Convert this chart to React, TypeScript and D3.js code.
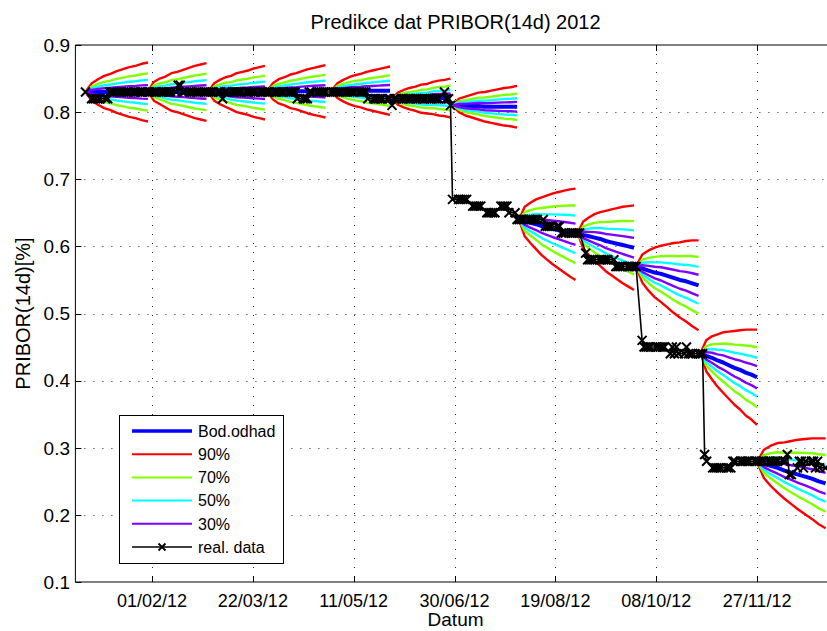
import React from "react";
import * as d3 from "d3";

// ---------- axes / ticks ----------
const X_DOMAIN = ["2011-12-25", "2013-01-05"];
const Y_DOMAIN = [0.1, 0.9];
const Y_TICKS = [0.1, 0.2, 0.3, 0.4, 0.5, 0.6, 0.7, 0.8, 0.9];
const X_TICKS = ["2012-02-01", "2012-03-22", "2012-05-11", "2012-06-30", "2012-08-19", "2012-10-08", "2012-11-27"];
const TITLE = "Predikce dat PRIBOR(14d) 2012";
const X_LABEL = "Datum";
const Y_LABEL = "PRIBOR(14d)[%]";

// ---------- real data (one value per business day) ----------
const REAL_START = "2011-12-30";
const realDec2011 = [0.83];
const realJan = [0.82, 0.82, 0.82, 0.82, 0.82, 0.82, 0.82, 0.83, 0.83, 0.83, 0.83, 0.83, 0.83, 0.83, 0.83, 0.83, 0.83, 0.83, 0.83, 0.83, 0.83, 0.83];
const realFeb = [0.83, 0.83, 0.83, 0.83, 0.83, 0.83, 0.83, 0.83, 0.83, 0.84, 0.84, 0.83, 0.83, 0.83, 0.83, 0.83, 0.83, 0.83, 0.83, 0.83, 0.83];
const realMar = [0.83, 0.83, 0.83, 0.83, 0.82, 0.83, 0.83, 0.83, 0.83, 0.83, 0.83, 0.83, 0.83, 0.83, 0.83, 0.83, 0.83, 0.83, 0.83, 0.83, 0.83, 0.83];
const realApr = [0.83, 0.83, 0.83, 0.83, 0.83, 0.83, 0.83, 0.83, 0.83, 0.82, 0.82, 0.82, 0.82, 0.83, 0.83, 0.83, 0.83, 0.83, 0.83, 0.83, 0.83];
const realMay = [0.83, 0.83, 0.83, 0.83, 0.83, 0.83, 0.83, 0.83, 0.83, 0.83, 0.83, 0.83, 0.83, 0.82, 0.82, 0.82, 0.82, 0.82, 0.82, 0.82, 0.82, 0.81, 0.82];
const realJun = [0.82, 0.82, 0.82, 0.82, 0.82, 0.82, 0.82, 0.82, 0.82, 0.82, 0.82, 0.82, 0.82, 0.82, 0.82, 0.82, 0.83, 0.82, 0.82, 0.81, 0.67];
const realJul = [0.67, 0.67, 0.67, 0.67, 0.67, 0.66, 0.66, 0.66, 0.66, 0.66, 0.65, 0.65, 0.65, 0.65, 0.65, 0.66, 0.66, 0.66, 0.66, 0.65, 0.65, 0.64];
const realAug = [0.64, 0.64, 0.64, 0.64, 0.64, 0.64, 0.64, 0.64, 0.64, 0.63, 0.63, 0.63, 0.63, 0.63, 0.63, 0.62, 0.62, 0.62, 0.62, 0.62, 0.62, 0.62, 0.62];
const realSep = [0.59, 0.58, 0.58, 0.58, 0.58, 0.58, 0.58, 0.58, 0.58, 0.58, 0.58, 0.57, 0.57, 0.57, 0.57, 0.57, 0.57, 0.57, 0.57, 0.57];
const realOct = [0.46, 0.45, 0.45, 0.45, 0.45, 0.45, 0.45, 0.45, 0.45, 0.45, 0.44, 0.45, 0.44, 0.45, 0.44, 0.44, 0.45, 0.44, 0.44, 0.44, 0.44, 0.44, 0.44];
const realNov = [0.29, 0.28, 0.27, 0.27, 0.27, 0.27, 0.27, 0.27, 0.27, 0.27, 0.28, 0.28, 0.28, 0.28, 0.28, 0.28, 0.28, 0.28, 0.28, 0.28, 0.28, 0.28];
const realDec = [0.28, 0.28, 0.28, 0.28, 0.28, 0.28, 0.28, 0.29, 0.26, 0.26, 0.27, 0.28, 0.28, 0.27, 0.28, 0.28, 0.28, 0.27, 0.28, 0.27, 0.27];

// ---------- prediction fans ----------
const fanStart = ["2011-12-30", "2012-01-30", "2012-02-29", "2012-03-29", "2012-04-30", "2012-05-30", "2012-06-29", "2012-08-01", "2012-08-30", "2012-09-28", "2012-10-30", "2012-11-27"];
const fanEnd = ["2012-01-30", "2012-02-28", "2012-03-28", "2012-04-27", "2012-05-29", "2012-06-28", "2012-07-31", "2012-08-29", "2012-09-27", "2012-10-29", "2012-11-27", "2012-12-31"];
// point estimate (Bod.odhad), 11 samples per fan
const fanCenter = [
  [0.830, 0.830, 0.830, 0.830, 0.830, 0.830, 0.830, 0.830, 0.830, 0.830, 0.830],
  [0.831, 0.831, 0.831, 0.830, 0.830, 0.830, 0.830, 0.830, 0.830, 0.830, 0.830],
  [0.830, 0.830, 0.830, 0.830, 0.829, 0.829, 0.829, 0.829, 0.829, 0.829, 0.829],
  [0.831, 0.831, 0.831, 0.831, 0.831, 0.831, 0.831, 0.831, 0.831, 0.831, 0.831],
  [0.832, 0.832, 0.832, 0.832, 0.832, 0.832, 0.832, 0.832, 0.832, 0.832, 0.832],
  [0.820, 0.820, 0.820, 0.820, 0.820, 0.820, 0.820, 0.821, 0.821, 0.821, 0.821],
  [0.810, 0.810, 0.809, 0.809, 0.809, 0.808, 0.808, 0.808, 0.808, 0.808, 0.808],
  [0.640, 0.637, 0.635, 0.633, 0.630, 0.628, 0.626, 0.624, 0.622, 0.620, 0.618],
  [0.620, 0.617, 0.615, 0.613, 0.611, 0.608, 0.606, 0.604, 0.602, 0.600, 0.598],
  [0.570, 0.567, 0.564, 0.561, 0.559, 0.556, 0.553, 0.550, 0.548, 0.545, 0.542],
  [0.441, 0.437, 0.434, 0.430, 0.427, 0.423, 0.419, 0.416, 0.412, 0.409, 0.405],
  [0.279, 0.276, 0.273, 0.270, 0.266, 0.263, 0.260, 0.257, 0.254, 0.250, 0.247],
];
// half-width of the 90% interval, 11 samples per fan
const fanSpread = [
  [0, 0.013, 0.019, 0.024, 0.027, 0.031, 0.034, 0.037, 0.039, 0.042, 0.044],
  [0, 0.014, 0.019, 0.023, 0.028, 0.030, 0.033, 0.036, 0.039, 0.041, 0.043],
  [0, 0.013, 0.018, 0.022, 0.025, 0.029, 0.031, 0.033, 0.036, 0.038, 0.040],
  [0, 0.012, 0.018, 0.021, 0.025, 0.027, 0.030, 0.033, 0.035, 0.037, 0.039],
  [0, 0.011, 0.016, 0.020, 0.023, 0.025, 0.028, 0.030, 0.032, 0.034, 0.036],
  [0, 0.009, 0.013, 0.016, 0.018, 0.021, 0.022, 0.024, 0.026, 0.027, 0.029],
  [0, 0.010, 0.014, 0.017, 0.020, 0.022, 0.024, 0.026, 0.028, 0.029, 0.031],
  [0, 0.022, 0.030, 0.037, 0.043, 0.048, 0.053, 0.057, 0.061, 0.065, 0.068],
  [0, 0.020, 0.028, 0.035, 0.040, 0.045, 0.049, 0.053, 0.057, 0.060, 0.063],
  [0, 0.021, 0.030, 0.037, 0.042, 0.047, 0.052, 0.056, 0.060, 0.064, 0.067],
  [0, 0.023, 0.032, 0.039, 0.045, 0.050, 0.055, 0.059, 0.064, 0.067, 0.071],
  [0, 0.021, 0.030, 0.037, 0.042, 0.047, 0.052, 0.056, 0.060, 0.064, 0.067],
];
const LEVEL_LABELS = ["90%", "70%", "50%", "30%"];
const LEVEL_RATIO = [1, 0.63, 0.41, 0.234];
const LEVEL_COLORS = ["#ff0000", "#80ff00", "#00ffff", "#8000ff"];
const CENTER_LABEL = "Bod.odhad";
const CENTER_COLOR = "#0000ff";
const REAL_LABEL = "real. data";

// ---------- layout ----------
const W = 827;
const H = 631;
const LEFT = 75.4;
const RIGHT = 835.7;
const TOP = 45;
const BOTTOM = 582;
const FONT = "'Liberation Sans', Arial, Helvetica, sans-serif";

const parse = (s: string) => new Date(s + "T00:00:00Z");

function businessDays(start: string, n: number): Date[] {
  const out: Date[] = [];
  let d = parse(start);
  while (out.length < n) {
    const wd = d.getUTCDay();
    if (wd !== 0 && wd !== 6) out.push(d);
    d = d3.utcDay.offset(d, 1);
  }
  return out;
}

const fmtTick = d3.utcFormat("%d/%m/%y");

function XMark({ cx, cy, r = 4.5, w = 2 }: { cx: number; cy: number; r?: number; w?: number }) {
  return (
    <path d={`M${cx - r},${cy - r}L${cx + r},${cy + r}M${cx - r},${cy + r}L${cx + r},${cy - r}`} stroke="#000" strokeWidth={w} fill="none" />
  );
}

export default function App() {
  const x = d3.scaleUtc().domain(X_DOMAIN.map(parse)).range([LEFT, RIGHT]);
  const y = d3.scaleLinear().domain(Y_DOMAIN).range([BOTTOM, TOP]);

  const realValues = [
    ...realDec2011, ...realJan, ...realFeb, ...realMar, ...realApr, ...realMay, ...realJun,
    ...realJul, ...realAug, ...realSep, ...realOct, ...realNov, ...realDec,
  ];
  const realDates = businessDays(REAL_START, realValues.length);
  const real = realValues.map((v, i) => ({ d: realDates[i], v }));

  const line = d3.line<{ d: Date; v: number }>().x((p) => x(p.d)).y((p) => y(p.v));

  const fans = fanStart.map((s, i) => {
    const t0 = parse(s).getTime();
    const t1 = parse(fanEnd[i]).getTime();
    const c = fanCenter[i];
    const sp = fanSpread[i];
    const n = c.length;
    const dates = c.map((_, k) => new Date(t0 + ((t1 - t0) * k) / (n - 1)));
    const center = c.map((v, k) => ({ d: dates[k], v }));
    const levels = LEVEL_RATIO.map((r) => ({
      up: c.map((v, k) => ({ d: dates[k], v: v + r * sp[k] })),
      lo: c.map((v, k) => ({ d: dates[k], v: v - r * sp[k] })),
    }));
    return { center, levels };
  });

  const xTicks = X_TICKS.map(parse);
  const plotW = RIGHT - LEFT;
  const midX = (LEFT + RIGHT) / 2;

  // legend
  const LX = 119.5, LY = 415.5, LW = 164, LH = 148;
  const rowY = (i: number) => 431 + i * 23.2;
  const legendItems = [
    { label: CENTER_LABEL, color: CENTER_COLOR, w: 3.5 },
    ...LEVEL_LABELS.map((l, i) => ({ label: l, color: LEVEL_COLORS[i], w: 2 })),
    { label: REAL_LABEL, color: "#000", w: 1.5 },
  ];

  return (
    <svg width={W} height={H} style={{ position: "absolute", left: 0, top: 0, background: "#fff" }} fontFamily={FONT}>
      <defs>
        <clipPath id="plotClip">
          <rect x={LEFT} y={TOP} width={plotW} height={BOTTOM - TOP} />
        </clipPath>
      </defs>
      <rect x={0} y={0} width={W} height={H} fill="#fff" />

      {/* grid */}
      <g stroke="#222" strokeWidth={1} strokeDasharray="1 8" fill="none">
        {xTicks.map((t, i) => (
          <line key={"gx" + i} x1={Math.round(x(t)) + 0.5} x2={Math.round(x(t)) + 0.5} y1={TOP} y2={BOTTOM} />
        ))}
        {Y_TICKS.slice(1, -1).map((v, i) => (
          <line key={"gy" + i} x1={LEFT} x2={RIGHT} y1={Math.round(y(v)) + 0.5} y2={Math.round(y(v)) + 0.5} />
        ))}
      </g>

      {/* fans */}
      <g clipPath="url(#plotClip)" fill="none" strokeLinejoin="round">
        {fans.map((f, i) => (
          <g key={"fan" + i}>
            <path d={line(f.center) || ""} stroke={CENTER_COLOR} strokeWidth={4} />
            {f.levels.map((l, j) => (
              <g key={j} stroke={LEVEL_COLORS[j]} strokeWidth={2.4}>
                <path d={line(l.up) || ""} />
                <path d={line(l.lo) || ""} />
              </g>
            ))}
          </g>
        ))}
        {/* real data */}
        <path d={line(real) || ""} stroke="#000" strokeWidth={1.6} />
        {real.map((p, i) => (
          <XMark key={"m" + i} cx={x(p.d)} cy={y(p.v)} />
        ))}
      </g>

      {/* axes box and ticks */}
      <g stroke="#000" strokeWidth={1} fill="none">
        <line x1={LEFT} x2={RIGHT} y1={TOP} y2={TOP} />
        <line x1={LEFT} x2={RIGHT} y1={BOTTOM} y2={BOTTOM} />
        <line x1={LEFT} x2={LEFT} y1={TOP} y2={BOTTOM} />
        <line x1={RIGHT} x2={RIGHT} y1={TOP} y2={BOTTOM} />
        {xTicks.map((t, i) => (
          <g key={"tx" + i}>
            <line x1={Math.round(x(t)) + 0.5} x2={Math.round(x(t)) + 0.5} y1={BOTTOM} y2={BOTTOM - 6} />
            <line x1={Math.round(x(t)) + 0.5} x2={Math.round(x(t)) + 0.5} y1={TOP} y2={TOP + 6} />
          </g>
        ))}
        {Y_TICKS.map((v, i) => (
          <line key={"ty" + i} x1={LEFT} x2={LEFT + 6} y1={Math.round(y(v)) + 0.5} y2={Math.round(y(v)) + 0.5} />
        ))}
      </g>

      {/* tick labels */}
      <g fill="#000">
        {xTicks.map((t, i) => (
          <text key={"lx" + i} x={x(t)} y={607} textAnchor="middle" fontSize={18}>{fmtTick(t)}</text>
        ))}
        {Y_TICKS.map((v, i) => (
          <text key={"ly" + i} x={70} y={y(v) + 6.8} textAnchor="end" fontSize={19}>{v.toFixed(1)}</text>
        ))}
      </g>

      {/* labels */}
      <text x={midX} y={29} textAnchor="middle" fontSize={20}>{TITLE}</text>
      <text x={midX} y={626} textAnchor="middle" fontSize={19}>{X_LABEL}</text>
      <text transform={`translate(30,${(TOP + BOTTOM) / 2}) rotate(-90)`} textAnchor="middle" fontSize={20}>{Y_LABEL}</text>

      {/* legend */}
      <g>
        <rect x={LX} y={LY} width={LW} height={LH} fill="#fff" stroke="#000" strokeWidth={1} />
        {legendItems.map((it, i) => (
          <g key={"lg" + i}>
            <line x1={132} x2={192} y1={rowY(i)} y2={rowY(i)} stroke={it.color} strokeWidth={it.w} />
            {it.label === REAL_LABEL && <XMark cx={162} cy={rowY(i)} r={3.5} w={1.8} />}
            <text x={198} y={rowY(i) + 5.8} fontSize={16}>{it.label}</text>
          </g>
        ))}
      </g>
    </svg>
  );
}
